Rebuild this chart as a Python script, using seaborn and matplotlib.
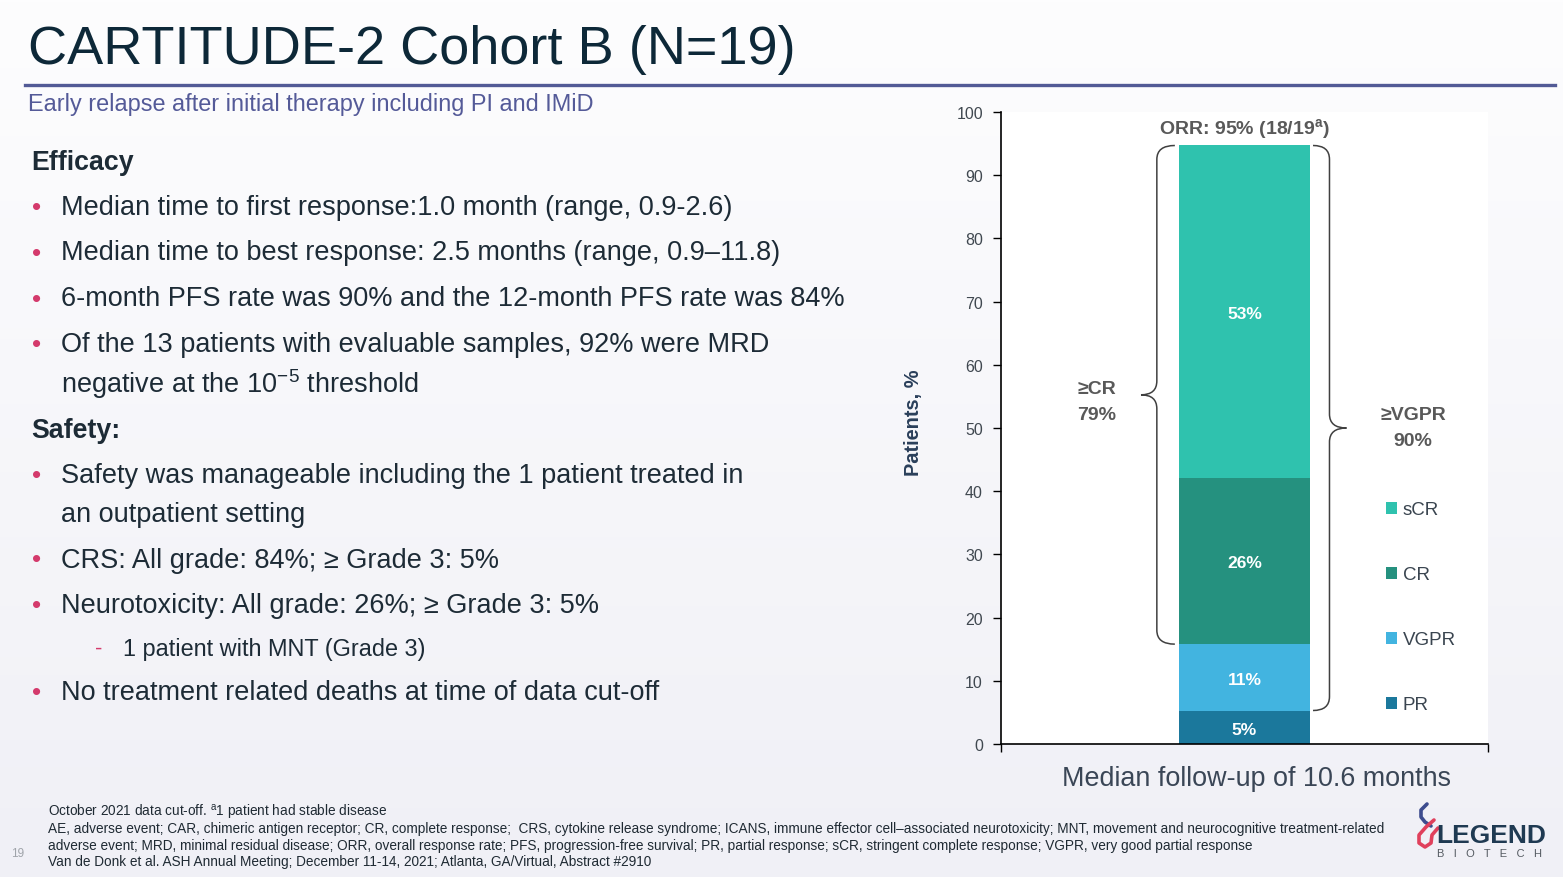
import numpy as np
import pandas as pd
import matplotlib
matplotlib.use("Agg")
import matplotlib.pyplot as plt
import seaborn as sns
from matplotlib.path import Path
from matplotlib.patches import PathPatch, Patch
from matplotlib.lines import Line2D

# ---------------- data ----------------
categories = ["PR", "VGPR", "CR", "sCR"]
values = [5.3, 10.5, 26.3, 52.6]
value_labels = ["5%", "11%", "26%", "53%"]
colors = ["#1b789c", "#42b4e0", "#25917f", "#2fc2ae"]
bar_name = ["Cohort B"]
yticks = [0, 10, 20, 30, 40, 50, 60, 70, 80, 90, 100]
orr_label = "ORR: 95% (18/19$^{\\mathregular{a}}$)"
cr_label = ["\u2265CR", "79%"]
vgpr_label = ["\u2265VGPR", "90%"]

FAM = ["Liberation Sans", "DejaVu Sans"]
plt.rcParams["font.family"] = FAM
plt.rcParams["mathtext.default"] = "regular"

W, H = 1563, 878
fig = plt.figure(figsize=(W / 100, H / 100), dpi=100)

# background gradient
bg = fig.add_axes([0, 0, 1, 1], zorder=-10)
top = np.array([0xfd, 0xfd, 0xfe]) / 255
bot = np.array([0xf0, 0xf0, 0xf6]) / 255
t = np.linspace(0, 1, 256)[:, None, None]
grad = top * (1 - t) + bot * t
bg.imshow(np.repeat(grad, 2, axis=1), aspect="auto", extent=[0, 1, 0, 1])
bg.set_axis_off()


def ftext(px, py, s, **kw):
    return fig.text(px / W, 1 - py / H, s, **kw)


# ---------------- slide text ----------------
DARK = "#1d2b36"
ftext(28, 50, "CARTITUDE-2 Cohort B (N=19)", fontsize=39, color="#0d2838", va="center")
fig.add_artist(Line2D([25 / W, 1555 / W], [1 - 86 / H, 1 - 86 / H], color="#525a96", lw=2.4))
ftext(28, 105, "Early relapse after initial therapy including PI and IMiD",
      fontsize=16.9, color="#545a98", va="center")

body = [
    ("head", 160, "Efficacy"),
    ("bullet", 206, "Median time to first response:1.0 month (range, 0.9-2.6)"),
    ("bullet", 251, "Median time to best response: 2.5 months (range, 0.9\u201311.8)"),
    ("bullet", 297, "6-month PFS rate was 90% and the 12-month PFS rate was 84%"),
    ("bullet", 343, "Of the 13 patients with evaluable samples, 92% were MRD"),
    ("cont", 382, "negative at the 10$^{\\mathregular{-5}}$ threshold"),
    ("head", 428, "Safety:"),
    ("bullet", 474, "Safety was manageable including the 1 patient treated in"),
    ("cont", 513, "an outpatient setting"),
    ("bullet", 558, "CRS: All grade: 84%; \u2265 Grade 3: 5%"),
    ("bullet", 604, "Neurotoxicity: All grade: 26%; \u2265 Grade 3: 5%"),
    ("sub", 647, "1 patient with MNT (Grade 3)"),
    ("bullet", 691, "No treatment related deaths at time of data cut-off"),
]
for kind, py, s in body:
    y = py + 2.5
    if kind == "head":
        ftext(31, y, s, fontsize=19.3, weight="bold", color=DARK, va="center")
    elif kind == "bullet":
        ftext(37, y, "\u2022", fontsize=19, color="#d43a6c", va="center", ha="center")
        ftext(61, y, s, fontsize=19.5, color=DARK, va="center")
    elif kind == "cont":
        ftext(61, y, s, fontsize=19.5, color=DARK, va="center")
    else:
        ftext(95, y, "-", fontsize=16, color="#d43a6c", va="center")
        ftext(123, y, s, fontsize=16.9, color=DARK, va="center")

foot = [
    (812, "October 2021 data cut-off. $^{\\mathregular{a}}$1 patient had stable disease"),
    (828, "AE, adverse event; CAR, chimeric antigen receptor; CR, complete response;  CRS, cytokine release syndrome; "
          "ICANS, immune effector cell\u2013associated neurotoxicity; MNT, movement and neurocognitive treatment-related"),
    (845, "adverse event; MRD, minimal residual disease; ORR, overall response rate; PFS, progression-free survival; "
          "PR, partial response; sCR, stringent complete response; VGPR, very good partial response"),
    (861, "Van de Donk et al. ASH Annual Meeting; December 11-14, 2021; Atlanta, GA/Virtual, Abstract #2910"),
]
for py, s in foot:
    ftext(48, py + 1, s, fontsize=9.85, color="#1f2a33", va="center")
ftext(18, 854, "19", fontsize=8.5, color="#a0a4aa", va="center", ha="center")

# logo
ftext(1436, 836, "LEGEND", fontsize=19, weight="bold", color="#1f3a52", va="center")
ftext(1437, 854, "B   I   O   T   E   C   H", fontsize=8, color="#555b62", va="center")
blue = [(1427, 805), (1421, 811), (1421, 818), (1425, 823), (1431, 827)]
pink = [(1434, 821), (1426, 828), (1419, 836), (1419, 844), (1425, 848), (1431, 844), (1432, 836), (1438, 829)]
for pts, c in [(blue, "#3d4c8e"), (pink, "#e0405c")]:
    xs = [p[0] / W for p in pts]
    ys = [1 - p[1] / H for p in pts]
    fig.add_artist(Line2D(xs, ys, color=c, lw=2.6, solid_capstyle="round", solid_joinstyle="round"))

# ---------------- chart ----------------
ax = fig.add_axes([1001 / W, 1 - 745 / H, 487 / W, 632 / H])
ax.set_facecolor("white")
cum = np.cumsum(values)
for i in reversed(range(len(categories))):
    sns.barplot(x=bar_name, y=[cum[i]], color=colors[i], saturation=1, width=0.27,
                linewidth=0, errorbar=None, ax=ax, zorder=2)
for i in range(len(categories)):
    ax.text(0, cum[i] - values[i] / 2 - 0.3, value_labels[i], ha="center", va="center",
            fontsize=12.5, weight="bold", color="white", zorder=3)

ax.set_xlim(-0.5, 0.5)
ax.set_ylim(0, 100)
ax.set_yticks(yticks)
ax.set_xticks([-0.5, 0.5])
ax.set_xticklabels(["", ""])
ax.set_xlabel("")
ax.tick_params(axis="y", direction="out", length=6, width=1, color="black",
               labelcolor="#404850", labelsize=11.5, pad=7)
ax.tick_params(axis="x", direction="out", length=6, width=1, color="black")
for sp in ["top", "right"]:
    ax.spines[sp].set_visible(False)
for sp in ["left", "bottom"]:
    ax.spines[sp].set_color("black")
    ax.spines[sp].set_linewidth(1.2)
ax.set_ylabel("Patients, %", fontsize=14.4, weight="bold", color="#2a3f5a")
ax.yaxis.set_label_coords(-0.179, 0.51)
ax.yaxis.label.set_verticalalignment("center")


def brace(end_x, vert_x, tip_x, top_y, bot_y, r=2.2):
    mid = (top_y + bot_y) / 2
    verts = [(end_x, top_y), (vert_x, top_y), (vert_x, top_y - r),
             (vert_x, mid + r), (vert_x, mid), (tip_x, mid),
             (vert_x, mid), (vert_x, mid - r),
             (vert_x, bot_y + r), (vert_x, bot_y), (end_x, bot_y)]
    codes = [Path.MOVETO, Path.CURVE3, Path.CURVE3,
             Path.LINETO, Path.CURVE3, Path.CURVE3,
             Path.CURVE3, Path.CURVE3,
             Path.LINETO, Path.CURVE3, Path.CURVE3]
    ax.add_patch(PathPatch(Path(verts, codes), fill=False, edgecolor="#404040", lw=1.1,
                           zorder=4, clip_on=False))


brace(-0.143, -0.180, -0.2125, cum[3], cum[1])
brace(0.1407, 0.1745, 0.2094, cum[3], cum[0])

GRAY = "#595959"
ax.text(0, 97.4, orr_label, ha="center", va="center", fontsize=14, weight="bold", color=GRAY)
ax.text(-0.303, 56.3, cr_label[0], ha="center", va="center", fontsize=14, weight="bold", color=GRAY)
ax.text(-0.303, 52.2, cr_label[1], ha="center", va="center", fontsize=14, weight="bold", color=GRAY)
ax.text(0.346, 52.2, vgpr_label[0], ha="center", va="center", fontsize=14, weight="bold", color=GRAY)
ax.text(0.346, 48.1, vgpr_label[1], ha="center", va="center", fontsize=14, weight="bold", color=GRAY)

handles = [Patch(facecolor=colors[i], label=categories[i]) for i in [3, 2, 1, 0]]
ax.legend(handles=handles, loc="center left", bbox_to_anchor=(0.79, 0.216), frameon=False,
          fontsize=13.5, labelspacing=2.56, handlelength=0.6, handleheight=0.6,
          handletextpad=0.3, borderpad=0, borderaxespad=0, labelcolor="#3a4550")

ftext(1257, 779, "Median follow-up of 10.6 months", fontsize=19.4, color="#3a4656",
      ha="center", va="center")

fig.savefig("out.png", dpi=100)
